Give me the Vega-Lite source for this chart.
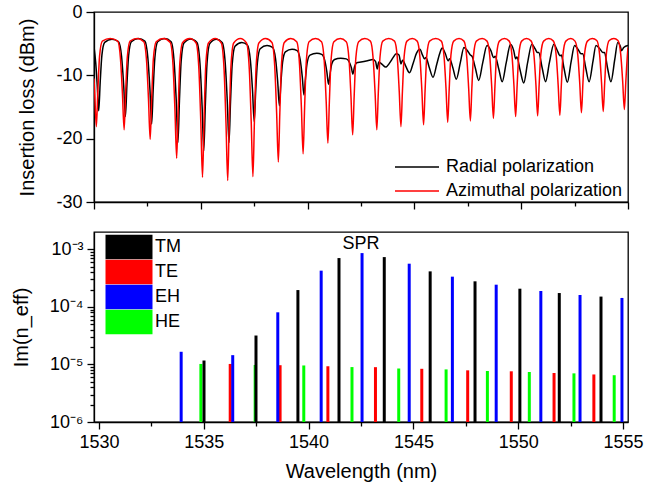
{
 "$schema": "https://vega.github.io/schema/vega-lite/v6.json",
 "padding": {"left": 10, "top": 2, "right": 5, "bottom": 2},
 "spacing": 19,
 "config": {
  "font": "Liberation Sans",
  "view": {"stroke": "#000", "strokeWidth": 1.3},
  "axis": {"grid": false, "domainColor": "#000", "tickColor": "#000", "labelColor": "#000", "titleColor": "#000", "labelFontSize": 18, "titleFontSize": 20, "titleFontWeight": "normal", "domainWidth": 1.3, "tickWidth": 1.3, "labelOverlap": false},
  "legend": {"labelFontSize": 18, "labelColor": "#000", "labelLimit": 400}
 },
 "datasets": {
  "radial": [
   {"w":1530.00,"v":-5.5},{"w":1530.08,"v":-8.0},{"w":1530.15,"v":-11.5},{"w":1530.22,"v":-15.6},{"w":1530.29,"v":-11.1},{"w":1530.37,"v":-6.8},{"w":1530.50,"v":-4.8},{"w":1530.84,"v":-4.3},
   {"w":1531.15,"v":-4.7},{"w":1531.29,"v":-7.0},{"w":1531.39,"v":-11.6},{"w":1531.47,"v":-16.5},{"w":1531.54,"v":-11.6},{"w":1531.62,"v":-6.9},{"w":1531.75,"v":-4.7},{"w":1532.08,"v":-4.2},
   {"w":1532.38,"v":-4.6},{"w":1532.52,"v":-7.2},{"w":1532.62,"v":-12.3},{"w":1532.70,"v":-17.7},{"w":1532.77,"v":-12.3},{"w":1532.85,"v":-7.2},{"w":1532.98,"v":-4.7},{"w":1533.31,"v":-4.2},
   {"w":1533.61,"v":-4.7},{"w":1533.75,"v":-7.8},{"w":1533.85,"v":-14.0},{"w":1533.93,"v":-20.6},{"w":1534.00,"v":-14.0},{"w":1534.08,"v":-7.8},{"w":1534.21,"v":-4.9},{"w":1534.53,"v":-4.25},
   {"w":1534.82,"v":-4.8},{"w":1534.96,"v":-8.1},{"w":1535.06,"v":-14.8},{"w":1535.14,"v":-21.9},{"w":1535.21,"v":-14.9},{"w":1535.29,"v":-8.2},{"w":1535.42,"v":-5.0},{"w":1535.73,"v":-4.3},
   {"w":1536.00,"v":-4.8},{"w":1536.14,"v":-7.9},{"w":1536.24,"v":-14.1},{"w":1536.32,"v":-20.6},{"w":1536.39,"v":-14.3},{"w":1536.47,"v":-8.3},{"w":1536.60,"v":-5.4},{"w":1536.92,"v":-4.8},
   {"w":1537.18,"v":-5.2},{"w":1537.32,"v":-7.6},{"w":1537.42,"v":-12.3},{"w":1537.50,"v":-17.3},{"w":1537.57,"v":-12.5},{"w":1537.65,"v":-8.0},{"w":1537.78,"v":-5.8},{"w":1538.10,"v":-5.3},
   {"w":1538.36,"v":-5.6},{"w":1538.50,"v":-7.4},{"w":1538.60,"v":-11.0},{"w":1538.68,"v":-14.8},{"w":1538.75,"v":-11.2},{"w":1538.83,"v":-7.9},{"w":1538.96,"v":-6.3},{"w":1539.27,"v":-5.9},
   {"w":1539.51,"v":-6.1},{"w":1539.65,"v":-7.5},{"w":1539.75,"v":-10.2},{"w":1539.83,"v":-13.1},{"w":1539.90,"v":-10.5},{"w":1539.98,"v":-8.0},{"w":1540.11,"v":-6.8},{"w":1540.43,"v":-6.5},
   {"w":1540.66,"v":-6.7},{"w":1540.80,"v":-7.6},{"w":1540.90,"v":-9.4},{"w":1540.98,"v":-11.4},{"w":1541.05,"v":-9.8},{"w":1541.13,"v":-8.2},{"w":1541.26,"v":-7.5},{"w":1541.55,"v":-7.3},
   {"w":1541.81,"v":-7.4},{"w":1541.95,"v":-7.9},{"w":1542.05,"v":-8.8},{"w":1542.12,"v":-9.8},{"w":1542.20,"v":-8.6},{"w":1542.30,"v":-8.0},{"w":1542.50,"v":-7.9},{"w":1542.80,"v":-7.7},
   {"w":1543.05,"v":-7.5},{"w":1543.18,"v":-7.8},{"w":1543.26,"v":-9.0},{"w":1543.33,"v":-7.9},{"w":1543.50,"v":-8.3},{"w":1543.65,"v":-8.7},{"w":1543.85,"v":-8.0},{"w":1544.00,"v":-7.2},
   {"w":1544.15,"v":-6.6},{"w":1544.28,"v":-6.8},{"w":1544.37,"v":-8.2},{"w":1544.45,"v":-7.6},{"w":1544.60,"v":-8.6},{"w":1544.77,"v":-9.6},{"w":1544.95,"v":-8.0},{"w":1545.10,"v":-6.5},
   {"w":1545.26,"v":-5.9},{"w":1545.38,"v":-6.8},{"w":1545.47,"v":-7.4},{"w":1545.54,"v":-7.2},{"w":1545.70,"v":-8.8},{"w":1545.87,"v":-10.3},{"w":1546.05,"v":-8.2},{"w":1546.20,"v":-6.4},
   {"w":1546.30,"v":-5.7},{"w":1546.45,"v":-6.6},{"w":1546.58,"v":-7.7},{"w":1546.65,"v":-7.4},{"w":1546.80,"v":-8.8},{"w":1546.96,"v":-10.6},{"w":1547.15,"v":-8.0},{"w":1547.32,"v":-5.6},
   {"w":1547.50,"v":-6.2},{"w":1547.62,"v":-6.8},{"w":1547.70,"v":-7.0},{"w":1547.85,"v":-8.8},{"w":1548.01,"v":-10.8},{"w":1548.20,"v":-8.0},{"w":1548.40,"v":-5.3},
   {"w":1548.58,"v":-6.1},{"w":1548.71,"v":-7.2},{"w":1548.78,"v":-7.0},{"w":1548.95,"v":-9.0},{"w":1549.11,"v":-11.0},{"w":1549.30,"v":-8.0},{"w":1549.50,"v":-5.1},
   {"w":1549.65,"v":-6.1},{"w":1549.74,"v":-7.4},{"w":1549.80,"v":-7.1},{"w":1549.95,"v":-9.2},{"w":1550.12,"v":-11.2},{"w":1550.30,"v":-8.0},{"w":1550.50,"v":-5.1},
   {"w":1550.65,"v":-5.8},{"w":1550.76,"v":-6.4},{"w":1550.82,"v":-6.4},{"w":1550.98,"v":-8.8},{"w":1551.14,"v":-11.0},{"w":1551.32,"v":-8.0},{"w":1551.53,"v":-5.1},
   {"w":1551.68,"v":-6.0},{"w":1551.82,"v":-6.9},{"w":1551.88,"v":-6.8},{"w":1552.00,"v":-8.8},{"w":1552.16,"v":-11.1},{"w":1552.34,"v":-7.8},{"w":1552.50,"v":-5.3},
   {"w":1552.68,"v":-6.0},{"w":1552.80,"v":-6.6},{"w":1552.88,"v":-6.6},{"w":1553.02,"v":-8.8},{"w":1553.18,"v":-11.0},{"w":1553.36,"v":-7.8},{"w":1553.50,"v":-5.3},
   {"w":1553.68,"v":-5.8},{"w":1553.82,"v":-6.4},{"w":1553.90,"v":-6.4},{"w":1554.04,"v":-8.8},{"w":1554.20,"v":-11.0},{"w":1554.38,"v":-7.5},{"w":1554.52,"v":-4.8},
   {"w":1554.64,"v":-5.4},{"w":1554.70,"v":-6.1},{"w":1554.80,"v":-5.6},{"w":1555.00,"v":-5.3}
  ],
  "azimuthal": [
   {"w":1530.00,"v":-10.5},{"w":1530.03,"v":-12.5},{"w":1530.11,"v":-18.1},{"w":1530.18,"v":-12.5},{"w":1530.26,"v":-7.0},{"w":1530.39,"v":-4.6},{"w":1530.76,"v":-4.2},
   {"w":1531.11,"v":-4.6},{"w":1531.24,"v":-7.4},{"w":1531.33,"v":-12.8},{"w":1531.41,"v":-18.6},{"w":1531.48,"v":-12.8},{"w":1531.56,"v":-7.1},{"w":1531.69,"v":-4.6},{"w":1532.02,"v":-4.2},
   {"w":1532.33,"v":-4.7},{"w":1532.46,"v":-7.7},{"w":1532.55,"v":-13.7},{"w":1532.63,"v":-20.1},{"w":1532.70,"v":-13.7},{"w":1532.78,"v":-7.4},{"w":1532.91,"v":-4.7},{"w":1533.25,"v":-4.2},
   {"w":1533.57,"v":-4.8},{"w":1533.70,"v":-8.4},{"w":1533.79,"v":-15.5},{"w":1533.87,"v":-23.1},{"w":1533.94,"v":-15.5},{"w":1534.02,"v":-8.0},{"w":1534.15,"v":-4.8},{"w":1534.48,"v":-4.2},
   {"w":1534.78,"v":-4.9},{"w":1534.91,"v":-9.0},{"w":1535.00,"v":-17.3},{"w":1535.08,"v":-26.1},{"w":1535.15,"v":-17.3},{"w":1535.23,"v":-8.6},{"w":1535.36,"v":-4.9},{"w":1535.67,"v":-4.2},
   {"w":1535.96,"v":-4.9},{"w":1536.09,"v":-9.1},{"w":1536.18,"v":-17.6},{"w":1536.26,"v":-26.6},{"w":1536.33,"v":-17.6},{"w":1536.41,"v":-8.7},{"w":1536.54,"v":-4.9},{"w":1536.85,"v":-4.2},
   {"w":1537.14,"v":-4.9},{"w":1537.27,"v":-9.0},{"w":1537.36,"v":-17.3},{"w":1537.44,"v":-26.0},{"w":1537.51,"v":-17.3},{"w":1537.59,"v":-8.6},{"w":1537.72,"v":-4.9},{"w":1538.03,"v":-4.2},
   {"w":1538.33,"v":-4.8},{"w":1538.46,"v":-8.5},{"w":1538.55,"v":-15.9},{"w":1538.63,"v":-23.7},{"w":1538.70,"v":-15.9},{"w":1538.78,"v":-8.1},{"w":1538.91,"v":-4.8},{"w":1539.21,"v":-4.2},
   {"w":1539.49,"v":-4.7},{"w":1539.62,"v":-8.2},{"w":1539.71,"v":-15.1},{"w":1539.79,"v":-22.4},{"w":1539.86,"v":-15.1},{"w":1539.94,"v":-7.8},{"w":1540.07,"v":-4.7},{"w":1540.37,"v":-4.2},
   {"w":1540.65,"v":-4.7},{"w":1540.78,"v":-7.8},{"w":1540.87,"v":-14.1},{"w":1540.95,"v":-20.7},{"w":1541.02,"v":-14.1},{"w":1541.10,"v":-7.5},{"w":1541.23,"v":-4.7},{"w":1541.53,"v":-4.2},
   {"w":1541.81,"v":-4.7},{"w":1541.94,"v":-7.5},{"w":1542.03,"v":-13.3},{"w":1542.11,"v":-19.4},{"w":1542.18,"v":-13.3},{"w":1542.26,"v":-7.2},{"w":1542.39,"v":-4.7},{"w":1542.68,"v":-4.2},
   {"w":1542.94,"v":-4.6},{"w":1543.07,"v":-7.4},{"w":1543.16,"v":-12.8},{"w":1543.24,"v":-18.6},{"w":1543.31,"v":-12.8},{"w":1543.39,"v":-7.1},{"w":1543.52,"v":-4.6},{"w":1543.80,"v":-4.2},
   {"w":1544.07,"v":-4.6},{"w":1544.20,"v":-7.2},{"w":1544.29,"v":-12.5},{"w":1544.37,"v":-18.1},{"w":1544.44,"v":-12.5},{"w":1544.52,"v":-7.0},{"w":1544.65,"v":-4.6},{"w":1544.90,"v":-4.2},
   {"w":1545.13,"v":-4.6},{"w":1545.26,"v":-7.2},{"w":1545.35,"v":-12.4},{"w":1545.43,"v":-17.8},{"w":1545.50,"v":-12.4},{"w":1545.58,"v":-6.9},{"w":1545.71,"v":-4.6},{"w":1546.00,"v":-4.2},
   {"w":1546.26,"v":-4.6},{"w":1546.39,"v":-7.1},{"w":1546.48,"v":-12.1},{"w":1546.56,"v":-17.4},{"w":1546.63,"v":-12.1},{"w":1546.71,"v":-6.8},{"w":1546.84,"v":-4.6},{"w":1547.09,"v":-4.2},
   {"w":1547.32,"v":-4.6},{"w":1547.45,"v":-7.1},{"w":1547.54,"v":-12.0},{"w":1547.62,"v":-17.2},{"w":1547.69,"v":-12.0},{"w":1547.77,"v":-6.8},{"w":1547.90,"v":-4.6},{"w":1548.17,"v":-4.2},
   {"w":1548.40,"v":-4.6},{"w":1548.53,"v":-7.0},{"w":1548.62,"v":-11.8},{"w":1548.70,"v":-16.8},{"w":1548.77,"v":-11.8},{"w":1548.85,"v":-6.7},{"w":1548.98,"v":-4.6},{"w":1549.22,"v":-4.2},
   {"w":1549.44,"v":-4.6},{"w":1549.57,"v":-6.9},{"w":1549.66,"v":-11.6},{"w":1549.74,"v":-16.5},{"w":1549.81,"v":-11.6},{"w":1549.89,"v":-6.7},{"w":1550.02,"v":-4.6},{"w":1550.25,"v":-4.2},
   {"w":1550.47,"v":-4.6},{"w":1550.60,"v":-6.9},{"w":1550.69,"v":-11.5},{"w":1550.77,"v":-16.4},{"w":1550.84,"v":-11.5},{"w":1550.92,"v":-6.6},{"w":1551.05,"v":-4.6},{"w":1551.29,"v":-4.2},
   {"w":1551.51,"v":-4.6},{"w":1551.64,"v":-6.9},{"w":1551.73,"v":-11.5},{"w":1551.81,"v":-16.3},{"w":1551.88,"v":-11.5},{"w":1551.96,"v":-6.6},{"w":1552.09,"v":-4.6},{"w":1552.32,"v":-4.2},
   {"w":1552.52,"v":-4.6},{"w":1552.65,"v":-6.8},{"w":1552.74,"v":-11.2},{"w":1552.82,"v":-15.9},{"w":1552.89,"v":-11.2},{"w":1552.97,"v":-6.5},{"w":1553.10,"v":-4.6},{"w":1553.33,"v":-4.2},
   {"w":1553.54,"v":-4.5},{"w":1553.67,"v":-6.7},{"w":1553.76,"v":-11.1},{"w":1553.84,"v":-15.7},{"w":1553.91,"v":-11.1},{"w":1553.99,"v":-6.5},{"w":1554.12,"v":-4.5},{"w":1554.34,"v":-4.2},
   {"w":1554.53,"v":-4.5},{"w":1554.66,"v":-6.7},{"w":1554.75,"v":-10.9},{"w":1554.83,"v":-15.4},{"w":1554.90,"v":-10.9},{"w":1554.98,"v":-6.4},{"w":1555.00,"v":-5.6}
  ],
  "neff": [
   {"wl":1534.86,"im":1.02e-5,"mode":"HE"},{"wl":1537.45,"im":9.8e-6,"mode":"HE"},{"wl":1539.77,"im":9.6e-6,"mode":"HE"},{"wl":1542.07,"im":9.0e-6,"mode":"HE"},{"wl":1544.30,"im":8.5e-6,"mode":"HE"},
   {"wl":1546.56,"im":8.2e-6,"mode":"HE"},{"wl":1548.53,"im":7.7e-6,"mode":"HE"},{"wl":1550.53,"im":7.4e-6,"mode":"HE"},{"wl":1552.66,"im":7.0e-6,"mode":"HE"},{"wl":1554.58,"im":6.5e-6,"mode":"HE"},
   {"wl":1536.26,"im":1.02e-5,"mode":"TE"},{"wl":1538.64,"im":9.7e-6,"mode":"TE"},{"wl":1540.92,"im":9.3e-6,"mode":"TE"},{"wl":1543.19,"im":8.97e-6,"mode":"TE"},{"wl":1545.40,"im":8.4e-6,"mode":"TE"},
   {"wl":1547.59,"im":7.9e-6,"mode":"TE"},{"wl":1549.67,"im":7.6e-6,"mode":"TE"},{"wl":1551.71,"im":7.1e-6,"mode":"TE"},{"wl":1553.61,"im":6.7e-6,"mode":"TE"},
   {"wl":1533.92,"im":1.66e-5,"mode":"EH"},{"wl":1536.38,"im":1.45e-5,"mode":"EH"},{"wl":1538.53,"im":8.05e-5,"mode":"EH"},{"wl":1540.60,"im":4.26e-4,"mode":"EH"},{"wl":1542.55,"im":8.6e-4,"mode":"EH"},
   {"wl":1544.80,"im":5.63e-4,"mode":"EH"},{"wl":1546.86,"im":3.35e-4,"mode":"EH"},{"wl":1548.95,"im":2.43e-4,"mode":"EH"},{"wl":1551.08,"im":1.89e-4,"mode":"EH"},{"wl":1552.95,"im":1.61e-4,"mode":"EH"},{"wl":1554.95,"im":1.43e-4,"mode":"EH"},
   {"wl":1535.01,"im":1.17e-5,"mode":"TM"},{"wl":1537.49,"im":3.18e-5,"mode":"TM"},{"wl":1539.49,"im":1.96e-4,"mode":"TM"},{"wl":1541.45,"im":7.05e-4,"mode":"TM"},{"wl":1543.61,"im":7.33e-4,"mode":"TM"},
   {"wl":1545.80,"im":4.14e-4,"mode":"TM"},{"wl":1547.94,"im":2.78e-4,"mode":"TM"},{"wl":1550.08,"im":2.07e-4,"mode":"TM"},{"wl":1551.96,"im":1.74e-4,"mode":"TM"},{"wl":1553.95,"im":1.51e-4,"mode":"TM"}
  ]
 },
 "vconcat": [
  {
   "width": 534,
   "height": 190,
   "layer": [
    {
     "data": {"name": "radial"},
     "mark": {"type": "line", "interpolate": "monotone", "strokeWidth": 1.5, "clip": true},
     "encoding": {
      "x": {"field": "w", "type": "quantitative", "scale": {"domain": [1530, 1555], "nice": false, "zero": false},
            "axis": {"values": [1530, 1532.5, 1535, 1537.5, 1540, 1542.5, 1545, 1547.5, 1550, 1552.5, 1555], "labels": false, "title": null,
                     "tickSize": {"condition": {"test": "datum.value % 5 == 0", "value": 7}, "value": 4}}},
      "y": {"field": "v", "type": "quantitative", "scale": {"domain": [-30, 0], "nice": false, "zero": false},
            "axis": {"values": [-30, -25, -20, -15, -10, -5, 0], "labelExpr": "datum.value % 10 == 0 ? '' + datum.value : ''",
                     "title": "Insertion loss (dBm)", "titlePadding": 18, "labelPadding": 4,
                     "tickSize": {"condition": {"test": "datum.value % 10 == 0", "value": 8}, "value": 5}}},
      "color": {"datum": "Radial polarization", "type": "nominal",
                "scale": {"domain": ["Radial polarization", "Azimuthal polarization"], "range": ["#000000", "#ff0000"]},
                "legend": {"orient": "none", "legendX": 311, "legendY": 143, "title": null, "symbolType": "M-2,0H2", "symbolSize": 484,
                           "symbolStrokeWidth": 1.5, "labelOffset": 17, "rowPadding": 3, "labelFontSize": 18, "labelLimit": 400}}
     }
    },
    {
     "data": {"name": "azimuthal"},
     "mark": {"type": "line", "interpolate": "monotone", "strokeWidth": 1.5, "clip": true},
     "encoding": {
      "x": {"field": "w", "type": "quantitative"},
      "y": {"field": "v", "type": "quantitative"},
      "color": {"datum": "Azimuthal polarization", "type": "nominal"}
     }
    }
   ]
  },
  {
   "width": 534,
   "height": 190,
   "layer": [
    {
     "data": {"name": "neff"},
     "mark": {"type": "bar", "width": 3},
     "encoding": {
      "x": {"field": "wl", "type": "quantitative", "scale": {"domain": [1530, 1555], "nice": false, "zero": false},
            "axis": {"values": [1530, 1532.5, 1535, 1537.5, 1540, 1542.5, 1545, 1547.5, 1550, 1552.5, 1555],
                     "labelExpr": "datum.value % 5 == 0 ? '' + datum.value : ''", "labelFlush": false, "labelPadding": 4,
                     "title": "Wavelength (nm)", "titlePadding": 10,
                     "tickSize": {"condition": {"test": "datum.value % 5 == 0", "value": 7}, "value": 4}}},
      "y": {"field": "im", "type": "quantitative", "scale": {"type": "log", "domain": [0.000001, 0.002], "nice": false},
            "axis": {"values": [0.000001,0.000002,0.000003,0.000004,0.000005,0.000006,0.000007,0.000008,0.000009,0.00001,0.00002,0.00003,0.00004,0.00005,0.00006,0.00007,0.00008,0.00009,0.0001,0.0002,0.0003,0.0004,0.0005,0.0006,0.0007,0.0008,0.0009,0.001],
                     "labelExpr": "datum.value == 0.001 ? '10⁻³' : datum.value == 0.0001 ? '10⁻⁴' : datum.value == 0.00001 ? '10⁻⁵' : datum.value == 0.000001 ? '10⁻⁶' : ''",
                     "title": "Im(n_eff)", "titlePadding": 18, "labelPadding": 4,
                     "tickSize": {"condition": {"test": "indexof([0.001, 0.0001, 0.00001, 0.000001], datum.value) >= 0", "value": 7}, "value": 4}}},
      "y2": {"datum": 0.000001},
      "color": {"field": "mode", "type": "nominal",
                "scale": {"domain": ["TM", "TE", "EH", "HE"], "range": ["#000000", "#ff0000", "#0000ff", "#00ff00"]},
                "legend": {"orient": "none", "legendX": 23, "legendY": 3, "title": null, "symbolType": "M-2,-1.04H2V1.04H-2Z",
                           "symbolSize": 552, "symbolStrokeWidth": 0, "symbolOpacity": 1, "labelOffset": 14, "rowPadding": -1.5, "labelFontSize": 18}}
     }
    },
    {
     "data": {"values": [{}]},
     "mark": {"type": "text", "fontSize": 18, "align": "center", "baseline": "alphabetic", "color": "#000"},
     "encoding": {"x": {"datum": 1542.5}, "y": {"datum": 0.001}, "text": {"value": "SPR"}}
    }
   ]
  }
 ],
 "resolve": {"scale": {"color": "independent"}, "legend": {"color": "independent"}}
}
